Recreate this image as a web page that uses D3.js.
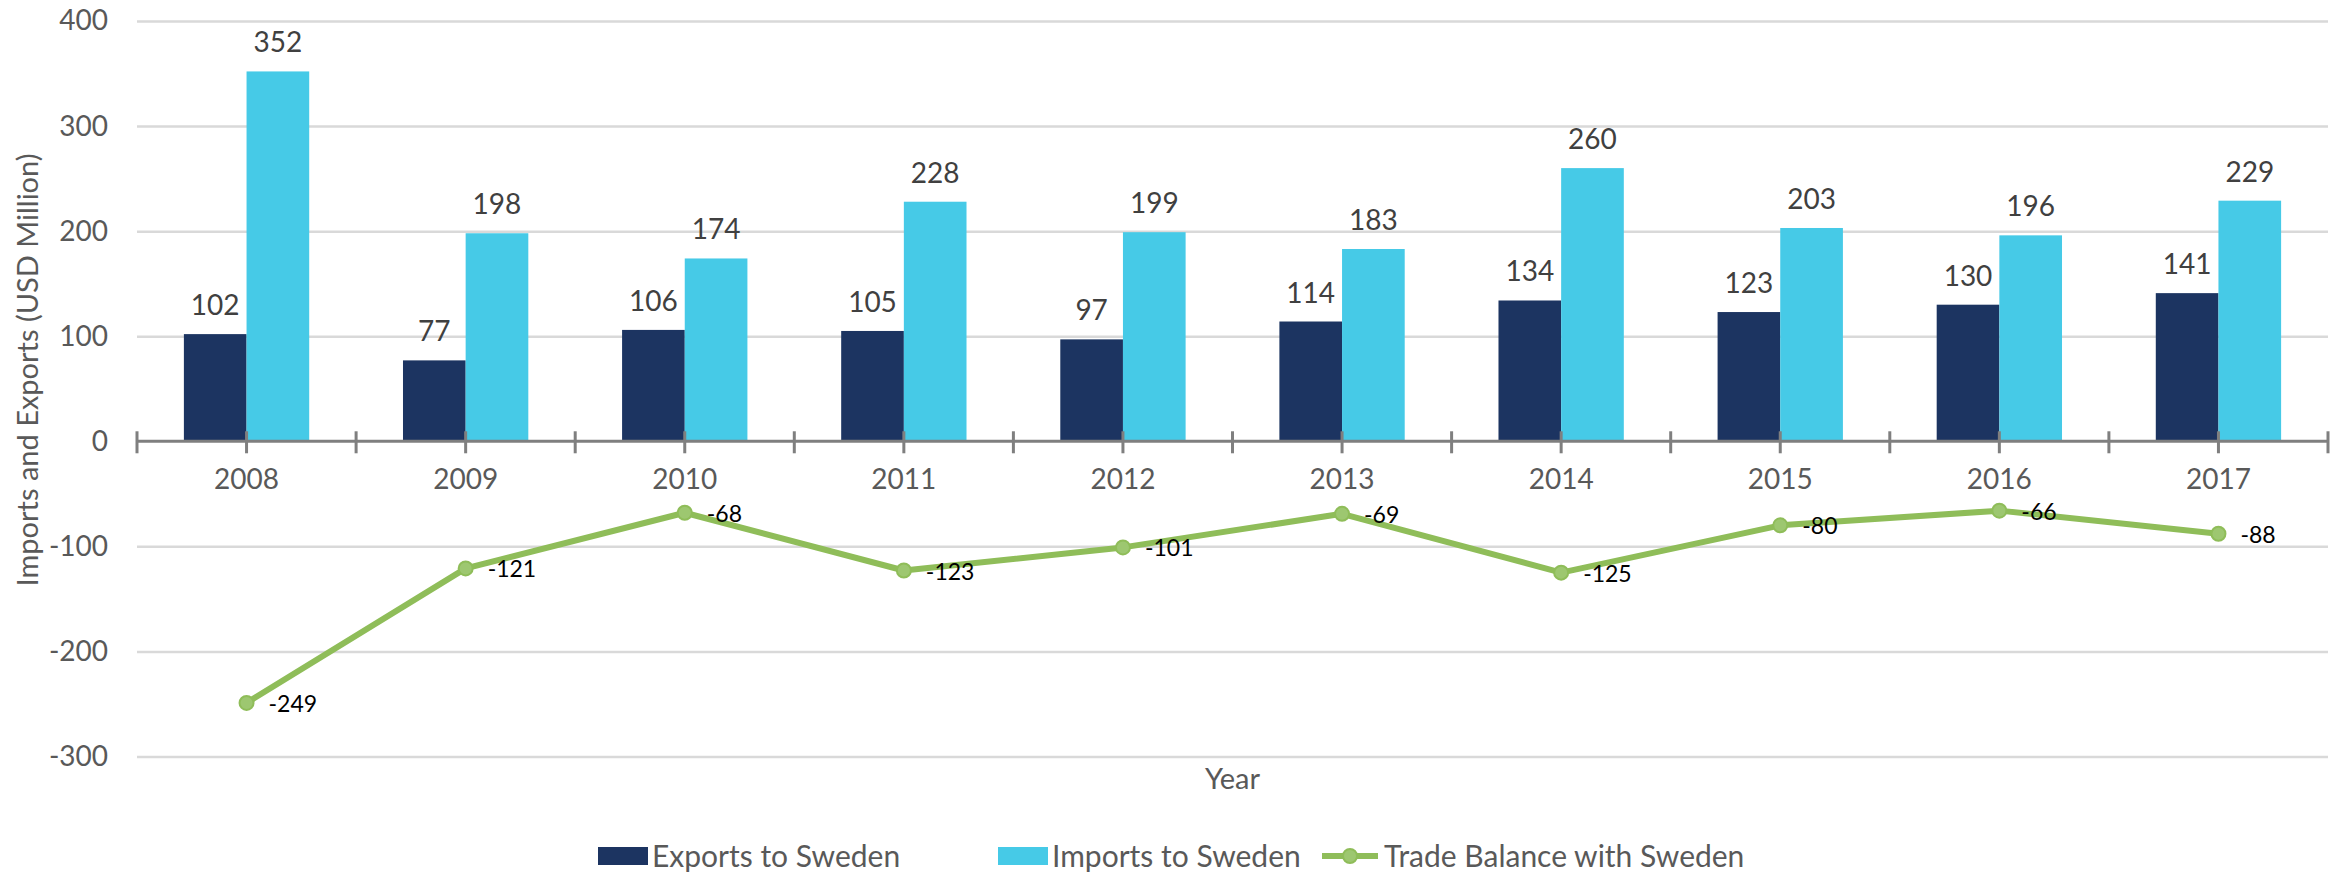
<!DOCTYPE html>
<html>
<head>
<meta charset="utf-8">
<script src="https://cdn.jsdelivr.net/npm/d3@7"></script>
<style>
  body { margin: 0; background: #fff; }
  text { font-family: Lato, "Open Sans", sans-serif; }
</style>
</head>
<body>
<div id="chart-area"></div>
<script>
var years = ["2008", "2009", "2010", "2011", "2012", "2013", "2014", "2015", "2016", "2017"];
var exportsSweden = [102, 77, 106, 105, 97, 114, 134, 123, 130, 141];
var importsSweden = [352, 198, 174, 228, 199, 183, 260, 203, 196, 229];
var tradeBalance = [-249, -121, -68, -123, -101, -69, -125, -80, -66, -88];
var yTicks = [-300, -200, -100, 0, 100, 200, 300, 400];

var width = 2346;
var height = 872;
var plotLeft = 137, plotRight = 2328;
var plotTop = 21, plotBottom = 756.5;

var colExp = "#1c3461";
var colImp = "#46cae7";
var colLine = "#8fbd59";
var colMarker = "#9dc770";
var textGray = "#595959";

var svg = d3.select("#chart-area")
    .append("svg")
    .attr("width", width)
    .attr("height", height);

var x = d3.scaleBand()
    .domain(years)
    .range([plotLeft, plotRight])
    .padding(0);

var y = d3.scaleLinear()
    .domain([-300, 400])
    .range([plotBottom, plotTop]);

var barW = x.bandwidth() * 0.286;
var cx = (d) => x(d) + x.bandwidth() / 2;

// gridlines + y labels
var yAxisGroup = svg.append("g")
    .attr("transform", "translate(" + plotLeft + ",0)")
    .call(d3.axisLeft(y).tickValues(yTicks)
        .tickSize(-(plotRight - plotLeft))
        .tickPadding(29)
        .tickFormat((d) => String(d)));
yAxisGroup.select(".domain").remove();
yAxisGroup.selectAll(".tick line")
    .attr("stroke", (d) => d === 0 ? "none" : "#d9d9d9")
    .attr("stroke-width", 2.5);
yAxisGroup.selectAll(".tick text")
    .attr("fill", textGray)
    .attr("font-size", "28px")
    .style("font-family", "Lato, sans-serif");

// bars
svg.append("g").selectAll("rect.exp")
    .data(years)
    .enter().append("rect")
    .attr("class", "exp")
    .attr("x", (d) => cx(d) - barW)
    .attr("y", (d, i) => y(exportsSweden[i]))
    .attr("width", barW)
    .attr("height", (d, i) => y(0) - y(exportsSweden[i]))
    .attr("fill", colExp);

svg.append("g").selectAll("rect.imp")
    .data(years)
    .enter().append("rect")
    .attr("class", "imp")
    .attr("x", (d) => cx(d))
    .attr("y", (d, i) => y(importsSweden[i]))
    .attr("width", barW)
    .attr("height", (d, i) => y(0) - y(importsSweden[i]))
    .attr("fill", colImp);

// zero axis with crossing ticks
svg.append("line")
    .attr("x1", plotLeft).attr("x2", plotRight)
    .attr("y1", y(0)).attr("y2", y(0))
    .attr("stroke", "#7f7f7f")
    .attr("stroke-width", 3);

var tickPos = [];
years.forEach((d) => { tickPos.push(x(d)); tickPos.push(cx(d)); });
tickPos.push(plotRight);
svg.append("g").selectAll("line")
    .data(tickPos)
    .enter().append("line")
    .attr("x1", (d) => d).attr("x2", (d) => d)
    .attr("y1", y(0) - 10).attr("y2", y(0) + 12)
    .attr("stroke", "#7f7f7f")
    .attr("stroke-width", 3);

// x labels
var xAxisGroup = svg.append("g")
    .attr("transform", "translate(0," + y(0) + ")")
    .call(d3.axisBottom(x).tickSize(0).tickPadding(28));
xAxisGroup.select(".domain").remove();
xAxisGroup.selectAll(".tick text")
    .attr("fill", textGray)
    .attr("font-size", "28px")
    .style("font-family", "Lato, sans-serif");

// bar labels
svg.append("g").selectAll("text")
    .data(years)
    .enter().append("text")
    .attr("x", (d) => cx(d) - barW / 2)
    .attr("y", (d, i) => y(exportsSweden[i]) - 19)
    .attr("text-anchor", "middle")
    .attr("font-size", "28px")
    .attr("fill", "#404040")
    .text((d, i) => exportsSweden[i]);

svg.append("g").selectAll("text")
    .data(years)
    .enter().append("text")
    .attr("x", (d) => cx(d) + barW / 2)
    .attr("y", (d, i) => y(importsSweden[i]) - 19)
    .attr("text-anchor", "middle")
    .attr("font-size", "28px")
    .attr("fill", "#404040")
    .text((d, i) => importsSweden[i]);

// trade balance line
var line = d3.line()
    .x((d, i) => cx(years[i]))
    .y((d) => y(d));

svg.append("path")
    .datum(tradeBalance)
    .attr("d", line)
    .attr("fill", "none")
    .attr("stroke", colLine)
    .attr("stroke-width", 6)
    .attr("stroke-linejoin", "round");

svg.append("g").selectAll("circle")
    .data(tradeBalance)
    .enter().append("circle")
    .attr("cx", (d, i) => cx(years[i]))
    .attr("cy", (d) => y(d))
    .attr("r", 7)
    .attr("fill", colMarker)
    .attr("stroke", colLine)
    .attr("stroke-width", 2);

svg.append("g").selectAll("text")
    .data(tradeBalance)
    .enter().append("text")
    .attr("x", (d, i) => cx(years[i]) + 22)
    .attr("y", (d) => y(d) + 9)
    .attr("font-size", "23px")
    .attr("fill", "#000")
    .text((d) => d);

// axis titles
svg.append("text")
    .attr("transform", "translate(28," + 370 + ") rotate(-90)")
    .attr("dy", "0.35em")
    .attr("text-anchor", "middle")
    .attr("font-size", "29px")
    .attr("fill", textGray)
    .text("Imports and Exports (USD Million)");

svg.append("text")
    .attr("x", (plotLeft + plotRight) / 2)
    .attr("y", 779)
    .attr("dy", "0.35em")
    .attr("text-anchor", "middle")
    .attr("font-size", "29px")
    .attr("fill", textGray)
    .text("Year");

// legend
var legendY = 856;
var legendFont = "30px";
var lg = svg.append("g");
lg.append("rect").attr("x", 598).attr("y", legendY - 9).attr("width", 50).attr("height", 18).attr("fill", colExp);
lg.append("text").attr("x", 652).attr("y", legendY).attr("dy", "0.35em")
    .attr("font-size", legendFont).attr("fill", textGray).text("Exports to Sweden");
lg.append("rect").attr("x", 998).attr("y", legendY - 9).attr("width", 50).attr("height", 18).attr("fill", colImp);
lg.append("text").attr("x", 1052).attr("y", legendY).attr("dy", "0.35em")
    .attr("font-size", legendFont).attr("fill", textGray).text("Imports to Sweden");
lg.append("line").attr("x1", 1322).attr("x2", 1378).attr("y1", legendY).attr("y2", legendY)
    .attr("stroke", colLine).attr("stroke-width", 6);
lg.append("circle").attr("cx", 1350).attr("cy", legendY).attr("r", 7)
    .attr("fill", colMarker).attr("stroke", colLine).attr("stroke-width", 2);
lg.append("text").attr("x", 1384).attr("y", legendY).attr("dy", "0.35em")
    .attr("font-size", legendFont).attr("fill", textGray).text("Trade Balance with Sweden");
</script>
</body>
</html>
